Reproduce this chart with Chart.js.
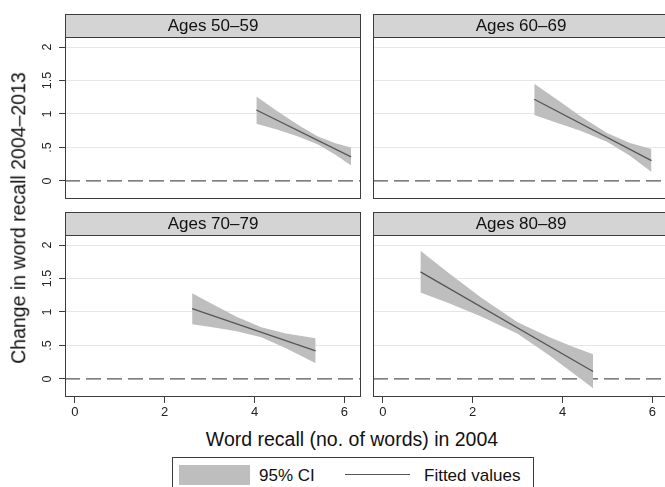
<!DOCTYPE html>
<html>
<head>
<meta charset="utf-8">
<script src="https://cdn.jsdelivr.net/npm/chart.js@4.4.1/dist/chart.umd.min.js"></script>
<style>
  html, body { margin: 0; padding: 0; background: #fff; }
  body { width: 665px; height: 487px; overflow: hidden; position: relative; font-family: "Liberation Sans", Arial, sans-serif; color: #111; }
  canvas { position: absolute; }
  .txt { position: absolute; white-space: nowrap; line-height: 1; }
</style>
</head>
<body>
<canvas id="c0" width="365" height="205" style="left:0px;top:0px"></canvas>
<canvas id="c1" width="310" height="205" style="left:365px;top:0px"></canvas>
<canvas id="c2" width="365" height="220" style="left:0px;top:205px"></canvas>
<canvas id="c3" width="310" height="220" style="left:365px;top:205px"></canvas>

<div class="txt" id="ytitle" style="left:19px;top:218px;font-size:19.5px;transform:translate(-50%,-50%) rotate(-90deg);">Change in word recall 2004–2013</div>
<div class="txt" id="xtitle" style="left:352px;top:440px;font-size:19.5px;transform:translate(-50%,-50%);">Word recall (no. of words) in 2004</div>

<div id="legend" style="position:absolute;left:172px;top:457px;width:362px;height:40px;border:1px solid #3c3c3c;box-sizing:border-box;">
  <div style="position:absolute;left:6px;top:7px;width:71px;height:20px;background:#bebebe;"></div>
  <div class="txt" style="left:86px;top:17px;font-size:17px;transform:translateY(-50%);">95% CI</div>
  <div style="position:absolute;left:172px;top:16px;width:65px;height:1px;background:#555;"></div>
  <div class="txt" style="left:251px;top:17px;font-size:17px;transform:translateY(-50%);">Fitted values</div>
</div>

<script>
// ---------------- data ----------------
const panelTitles = ['Ages 50–59', 'Ages 60–69', 'Ages 70–79', 'Ages 80–89'];

const xTicks = [0, 2, 4, 6];
const xTickLabels = ['0', '2', '4', '6'];
const yTicks = [0, 0.5, 1, 1.5, 2];
const yTickLabels = ['0', '.5', '1', '1.5', '2'];

// Ages 50–59
const fitX1 = [4.04, 6.15];
const fitY1 = [1.06, 0.36];
const ciX1 = [4.04, 4.5, 5.0, 5.4, 5.8, 6.15];
const ciUpper1 = [1.26, 1.045, 0.826, 0.669, 0.561, 0.50];
const ciLower1 = [0.855, 0.769, 0.656, 0.549, 0.391, 0.23];

// Ages 60–69
const fitX2 = [3.37, 5.98];
const fitY2 = [1.22, 0.303];
const ciX2 = [3.37, 3.9, 4.4, 5.0, 5.5, 5.98];
const ciUpper2 = [1.45, 1.206, 0.968, 0.712, 0.567, 0.478];
const ciLower2 = [0.985, 0.862, 0.748, 0.582, 0.377, 0.134];

// Ages 70–79
const fitX3 = [2.61, 5.36];
const fitY3 = [1.05, 0.418];
const ciX3 = [2.61, 3.1, 3.6, 4.15, 4.7, 5.36];
const ciUpper3 = [1.28, 1.105, 0.93, 0.771, 0.68, 0.607];
const ciLower3 = [0.815, 0.769, 0.714, 0.621, 0.458, 0.234];

// Ages 80–89
const fitX4 = [0.836, 4.68];
const fitY4 = [1.60, 0.11];
const ciX4 = [0.836, 1.5, 2.2, 3.0, 3.7, 4.2, 4.68];
const ciUpper4 = [1.915, 1.562, 1.21, 0.845, 0.625, 0.487, 0.37];
const ciLower4 = [1.29, 1.122, 0.93, 0.675, 0.355, 0.105, -0.14];

const fitXs = [fitX1, fitX2, fitX3, fitX4];
const fitYs = [fitY1, fitY2, fitY3, fitY4];
const ciXs = [ciX1, ciX2, ciX3, ciX4];
const ciUppers = [ciUpper1, ciUpper2, ciUpper3, ciUpper4];
const ciLowers = [ciLower1, ciLower2, ciLower3, ciLower4];

// ---------------- style ----------------
const FONT = '"Liberation Sans", Arial, sans-serif';
Chart.defaults.font.family = FONT;
const BAND = '#bebebe';
const LINE = '#555555';
const STRIP = '#d4d4d4';
const BORDER = '#3c3c3c';
const GRID = '#e6e6e6';

const panelDeco = {
  id: 'panelDeco',
  beforeDatasetsDraw(chart) {
    const a = chart.chartArea;
    const y = chart.scales.y.getPixelForValue(0);
    const ctx = chart.ctx;
    ctx.save();
    ctx.strokeStyle = '#555';
    ctx.lineWidth = 1.2;
    ctx.setLineDash([15, 6]);
    ctx.beginPath();
    ctx.moveTo(a.left, y);
    ctx.lineTo(a.right, y);
    ctx.stroke();
    ctx.restore();
  },
  afterDraw(chart, args, opts) {
    const a = chart.chartArea;
    const ctx = chart.ctx;
    const sh = 23;
    const st = a.top - sh;
    ctx.save();
    ctx.fillStyle = STRIP;
    ctx.fillRect(a.left, st, a.right - a.left, sh);
    ctx.strokeStyle = BORDER;
    ctx.lineWidth = 1;
    ctx.setLineDash([]);
    ctx.strokeRect(a.left + 0.5, st + 0.5, a.right - a.left - 1, a.bottom - st - 1);
    ctx.beginPath();
    ctx.moveTo(a.left, a.top + 0.5);
    ctx.lineTo(a.right, a.top + 0.5);
    ctx.stroke();
    ctx.fillStyle = '#111';
    ctx.font = '17px ' + FONT;
    ctx.textAlign = 'center';
    ctx.textBaseline = 'middle';
    ctx.fillText(opts.title, a.left + 148, st + sh / 2 + 1);
    if (opts.yLabels) {
      const ys = chart.scales.y;
      ctx.fillStyle = '#222';
      ctx.font = '12.5px ' + FONT;
      ys.ticks.forEach(t => {
        const py = ys.getPixelForValue(t.value);
        ctx.save();
        ctx.translate(a.left - 17, py);
        ctx.rotate(-Math.PI / 2);
        ctx.textAlign = 'center';
        ctx.textBaseline = 'middle';
        ctx.fillText(yTickLabels[yTicks.indexOf(t.value)], 0, 0);
        ctx.restore();
      });
    }
    ctx.restore();
  }
};

function makePanel(i, isLeft, isBottom) {
  const ctx = document.getElementById('c' + i);
  const pad = {
    top: isBottom ? 30 : 37,
    left: isLeft ? 0 : 8,
    right: isLeft ? 4 : 6,
    bottom: isBottom ? 0 : 6
  };
  new Chart(ctx, {
    type: 'line',
    data: {
      datasets: [
        {
          label: 'Fitted values',
          data: fitXs[i].map((x, k) => ({ x: x, y: fitYs[i][k] })),
          borderWidth: 1.3,
          borderColor: LINE,
          pointRadius: 0,
          fill: false
        },
        {
          label: '95% CI',
          data: ciXs[i].map((x, k) => ({ x: x, y: ciUppers[i][k] })),
          borderWidth: 0,
          borderColor: BAND,
          backgroundColor: BAND,
          pointRadius: 0,
          fill: '+1'
        },
        {
          label: '95% CI lower',
          data: ciXs[i].map((x, k) => ({ x: x, y: ciLowers[i][k] })),
          borderWidth: 0,
          borderColor: BAND,
          backgroundColor: BAND,
          pointRadius: 0,
          fill: false
        }
      ]
    },
    options: {
      responsive: false,
      animation: false,
      events: [],
      layout: { padding: pad },
      plugins: {
        legend: { display: false },
        tooltip: { enabled: false },
        panelDeco: { title: panelTitles[i], yLabels: isLeft }
      },
      scales: {
        x: {
          type: 'linear',
          min: -0.22,
          max: 6.37,
          display: isBottom,
          afterBuildTicks: s => { s.ticks = xTicks.map(v => ({ value: v })); },
          afterFit: s => { s.height = isBottom ? 28 : 0; },
          border: { display: false },
          grid: { drawOnChartArea: false, drawTicks: true, tickLength: 6, tickColor: BORDER, tickWidth: 1 },
          ticks: {
            padding: 2,
            color: '#222',
            font: { size: 13, family: FONT },
            maxRotation: 0,
            autoSkip: false,
            callback: v => xTickLabels[xTicks.indexOf(v)]
          }
        },
        y: {
          type: 'linear',
          min: -0.27,
          max: 2.15,
          afterBuildTicks: s => { s.ticks = yTicks.map(v => ({ value: v })); },
          afterFit: s => { s.width = isLeft ? 65 : 0; },
          border: { display: false },
          grid: {
            color: c => (c.tick && c.tick.value === 0) ? 'rgba(0,0,0,0)' : GRID,
            lineWidth: 1,
            drawTicks: isLeft,
            tickLength: 6,
            tickColor: BORDER
          },
          ticks: {
            display: false,
            autoSkip: false
          }
        }
      }
    },
    plugins: [panelDeco]
  });
}

makePanel(0, true, false);
makePanel(1, false, false);
makePanel(2, true, true);
makePanel(3, false, true);
</script>
</body>
</html>
